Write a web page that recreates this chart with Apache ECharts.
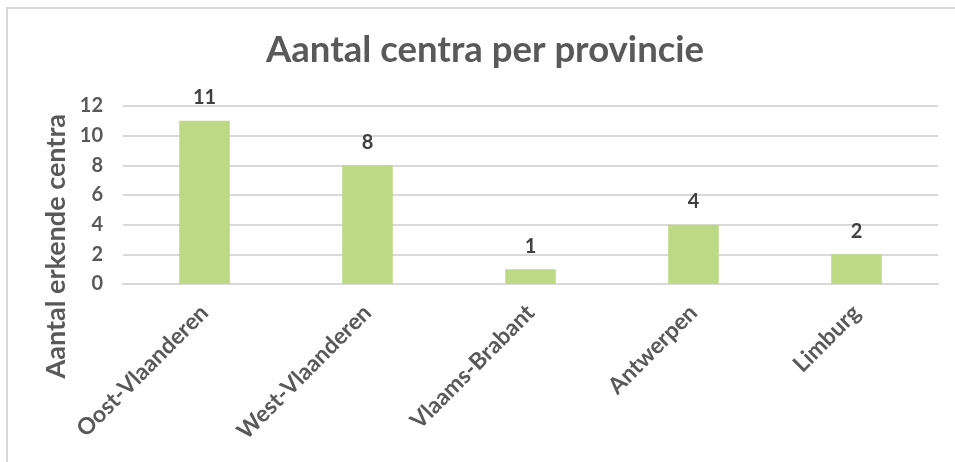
<!DOCTYPE html>
<html>
<head>
<meta charset="utf-8">
<script src="https://cdn.jsdelivr.net/npm/echarts@6/dist/echarts.min.js"></script>
<style>
html,body{margin:0;padding:0;background:#fff;}
#frame{position:absolute;left:6px;top:7px;width:949px;height:455px;border-top:2px solid #d9d9d9;border-left:2px solid #d9d9d9;box-sizing:border-box;}
#chart{position:absolute;left:0;top:0;width:955px;height:462px;}
</style>
</head>
<body>
<div id="frame"></div>
<div id="chart"></div>
<script>
const categories = ['Oost-Vlaanderen', 'West-Vlaanderen', 'Vlaams-Brabant', 'Antwerpen', 'Limburg'];
const values = [11, 8, 1, 4, 2];
const titleText = 'Aantal centra per provincie';
const yAxisTitle = 'Aantal erkende centra';

const chart = echarts.init(document.getElementById('chart'), null, {renderer: 'canvas'});
const txt = '#595959';
const font = 'Lato, "Open Sans", sans-serif';
chart.setOption({
  animation: false,
  title: {
    text: titleText,
    left: 266,
    top: 27,
    padding: [5, 0, 5, 0],
    textStyle: {fontFamily: font, fontSize: 36.5, fontWeight: 'bold', color: txt}
  },
  graphic: [{
    type: 'text',
    left: 43,
    top: 114,
    rotation: Math.PI / 2,
    style: {text: yAxisTitle, fontFamily: font, fontSize: 27, fontWeight: 'bold', fill: txt},
    origin: [0, 0]
  }],
  grid: {left: 123, right: 17, top: 106, bottom: 178, containLabel: false},
  xAxis: {
    type: 'category',
    data: categories,
    axisLine: {show: true, lineStyle: {color: '#d9d9d9', width: 2}},
    axisTick: {show: false},
    axisLabel: {rotate: 45, margin: 25, fontFamily: font, fontSize: 23, fontWeight: 'bold', color: txt}
  },
  yAxis: {
    type: 'value',
    min: 0, max: 12, interval: 2,
    axisLine: {show: false},
    axisTick: {show: false},
    splitLine: {lineStyle: {color: '#d9d9d9', width: 2}},
    axisLabel: {margin: 20, fontFamily: font, fontSize: 20, fontWeight: 'bold', color: txt}
  },
  series: [{
    type: 'bar',
    data: values,
    barWidth: '31%',
    itemStyle: {color: '#bdd985'},
    label: {show: true, position: 'top', distance: 13, fontFamily: font, fontSize: 20, fontWeight: 'bold', color: '#404040'}
  }]
});
</script>
</body>
</html>
